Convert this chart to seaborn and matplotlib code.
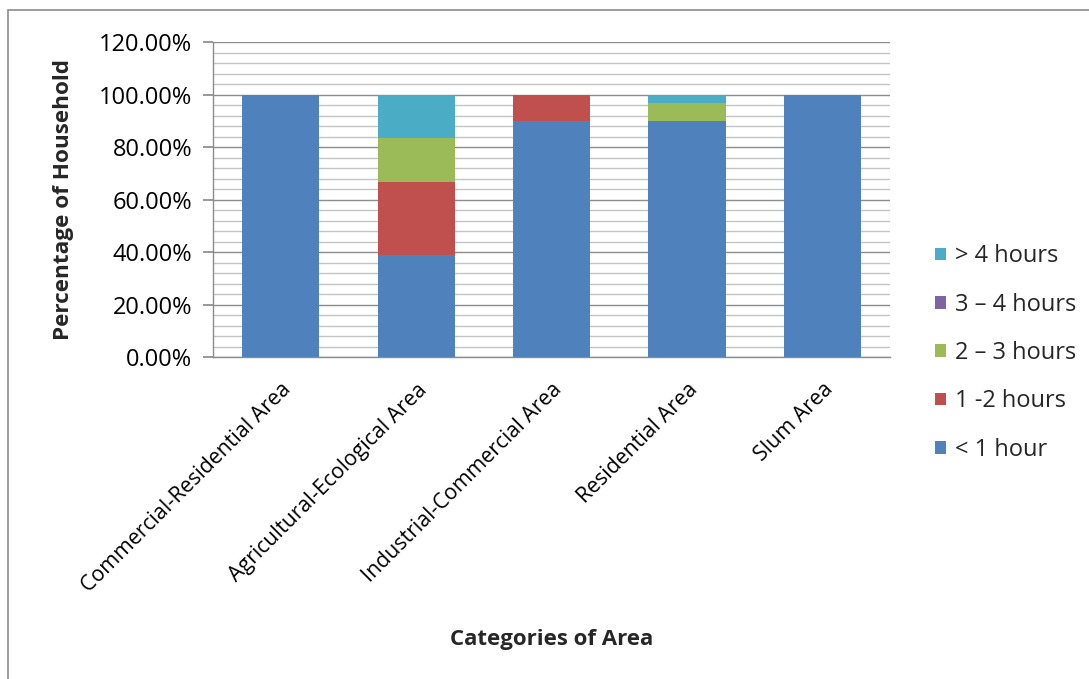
import matplotlib
matplotlib.use("Agg")
import matplotlib.pyplot as plt
from matplotlib.patches import Rectangle
from matplotlib.ticker import MultipleLocator, PercentFormatter
import seaborn as sns
import numpy as np

categories = ["Commercial-Residential Area", "Agricultural-Ecological Area",
              "Industrial-Commercial Area", "Residential Area", "Slum Area"]
series_names = ["< 1 hour", "1 -2 hours", "2 \u2013 3 hours", "3 \u2013 4 hours", "> 4 hours"]
under_1h = [100.0, 38.89, 90.0, 90.0, 100.0]
h1_2 = [0.0, 27.78, 10.0, 0.0, 0.0]
h2_3 = [0.0, 16.67, 0.0, 6.67, 0.0]
h3_4 = [0.0, 0.0, 0.0, 0.0, 0.0]
over_4h = [0.0, 16.67, 0.0, 3.33, 0.0]
series_values = [under_1h, h1_2, h2_3, h3_4, over_4h]
colors = ["#4F81BD", "#C0504D", "#9BBB59", "#8064A2", "#4BACC6"]

sns.set_theme(style="white")
plt.rcParams["font.family"] = ["Open Sans", "DejaVu Sans"]

fig = plt.figure(figsize=(10.89, 6.79), dpi=100)
ax = fig.add_axes([0.1956, 0.4742, 0.8173 - 0.1956, 0.9381 - 0.4742])

# stacked bars, one series on top of the previous ones
bottom = np.zeros(len(categories))
for name, vals, col in zip(series_names, series_values, colors):
    sns.barplot(x=categories, y=vals, bottom=bottom, color=col, width=0.57,
                errorbar=None, ax=ax, label=name, edgecolor="none", zorder=3,
                saturation=1)
    bottom = bottom + np.array(vals)

ax.set_ylim(0, 120)
ax.set_xlim(-0.5, len(categories) - 0.5)
ax.yaxis.set_major_locator(MultipleLocator(20))
ax.yaxis.set_minor_locator(MultipleLocator(4))
ax.yaxis.set_major_formatter(PercentFormatter(decimals=2))
ax.grid(which="major", axis="y", color="#8C8C8C", linewidth=1.0, zorder=0)
ax.grid(which="minor", axis="y", color="#C4C4C4", linewidth=1.0, zorder=0)
ax.set_axisbelow(True)

for side in ["top", "right"]:
    ax.spines[side].set_visible(False)
for side in ["left", "bottom"]:
    ax.spines[side].set_color("#8C8C8C")
    ax.spines[side].set_linewidth(1.0)

ax.tick_params(axis="y", which="major", left=True, length=7, color="#8C8C8C",
               labelsize=17, pad=8, labelcolor="black")
ax.tick_params(axis="y", which="minor", left=False)
ax.tick_params(axis="x", bottom=False, labelsize=15.3, pad=10, labelcolor="black")
for lbl in ax.get_xticklabels():
    lbl.set_rotation(45)
    lbl.set_ha("right")
    lbl.set_rotation_mode("anchor")

ax.set_ylabel("Percentage of Household", fontsize=16.2, fontweight="bold")
ax.yaxis.set_label_coords(-0.205, 0.5)
ax.set_xlabel("")
fig.text(552 / 1089, 1 - 640 / 679, "Categories of Area", fontsize=16,
         fontweight="bold", ha="center", va="center")

handles, labels = ax.get_legend_handles_labels()
ax.legend(handles[::-1], labels[::-1], loc="center left",
          bbox_to_anchor=(935 / 1089, 1 - 353 / 679), bbox_transform=fig.transFigure,
          frameon=False, fontsize=17, handlelength=0.45, handleheight=0.45,
          handletextpad=0.4, labelspacing=1.03, borderaxespad=0, borderpad=0)

fig.patches.append(Rectangle((8 / 1089, -0.1), 1.2, 1 - 10 / 679 + 0.1,
                             transform=fig.transFigure, fill=False,
                             edgecolor="#8C8C8C", linewidth=1.2))

fig.savefig("out.png", dpi=100, facecolor="white")
